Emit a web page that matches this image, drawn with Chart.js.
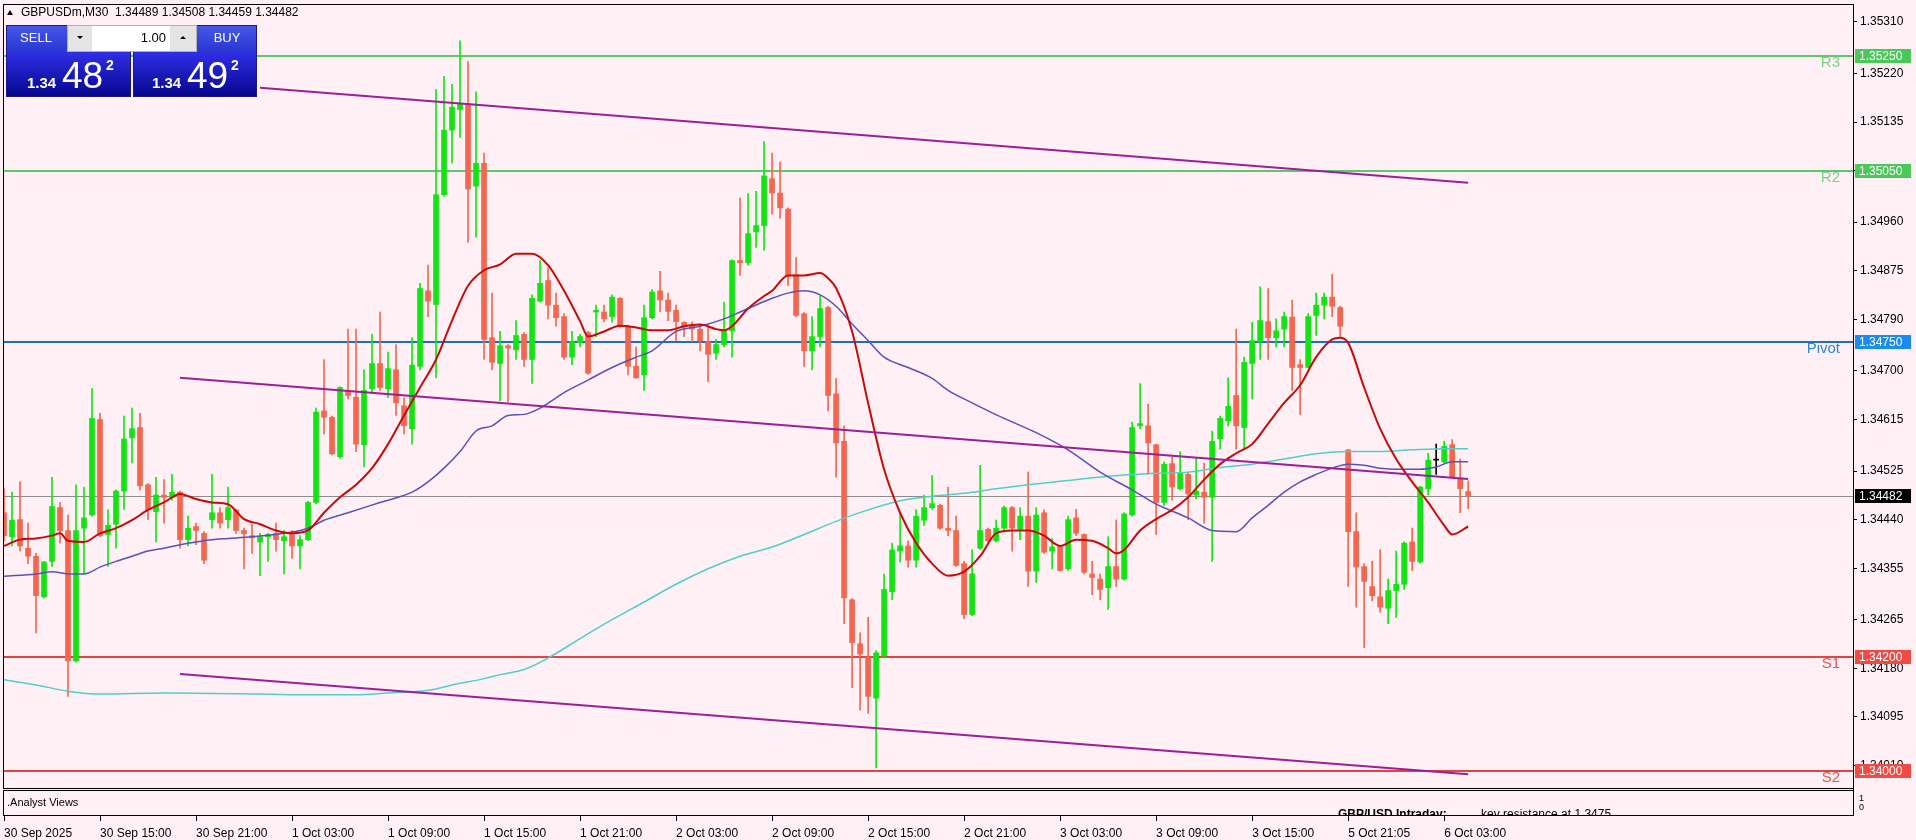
<!DOCTYPE html>
<html>
<head>
<meta charset="utf-8">
<script src="https://cdn.jsdelivr.net/npm/chart.js@4.4.1/dist/chart.umd.min.js"></script>
<style>
  html, body { margin: 0; padding: 0; background: #fff0f5; overflow: hidden; }
  #myChart { display: block; }
</style>
</head>
<body>
<canvas id="myChart" width="1916" height="840"></canvas>
<script>
// GBPUSDm M30 candles, bar 0 = 30 Sep 09:00
var opens = [1.34452,1.34410,1.34440,1.34390,1.34376,1.34305,1.34367,1.34461,1.34421,1.34193,
  1.34425,1.34448,1.34615,1.34414,1.34432,1.34490,1.34583,1.34601,1.34501,1.34454,
  1.34483,1.34479,1.34488,1.34405,1.34428,1.34416,1.34440,1.34452,1.34440,1.34457,
  1.34421,1.34412,1.34401,1.34410,1.34416,1.34403,1.34414,1.34394,1.34405,1.34470,
  1.34630,1.34619,1.34550,1.34666,1.34654,1.34571,1.34669,1.34713,1.34669,1.34702,
  1.34639,1.34599,1.34708,1.34840,1.34816,1.35008,1.35121,1.35157,1.35167,1.35023,
  1.35063,1.34758,1.34713,1.34744,1.34737,1.34764,1.34720,1.34822,1.34858,1.34815,
  1.34795,1.34724,1.34749,1.34767,1.34803,1.34803,1.34795,1.34827,1.34778,1.34708,
  1.34693,1.34793,1.34840,1.34824,1.34806,1.34785,1.34778,1.34773,1.34751,1.34731,
  1.34746,1.34770,1.34893,1.34889,1.34943,1.34954,1.35036,1.35011,1.34983,1.34868,
  1.34800,1.34735,1.34760,1.34811,1.34660,1.34577,1.34300,1.34223,1.34200,1.34128,
  1.34202,1.34314,1.34385,1.34394,1.34369,1.34439,1.34461,1.34465,1.34425,1.34421,
  1.34363,1.34274,1.34390,1.34423,1.34403,1.34425,1.34461,1.34423,1.34446,1.34350,
  1.34452,1.34385,1.34392,1.34354,1.34443,1.34414,1.34345,1.34336,1.34321,1.34358,
  1.34336,1.34448,1.34604,1.34604,1.34571,1.34470,1.34538,1.34494,1.34519,1.34483,
  1.34488,1.34479,1.34581,1.34613,1.34657,1.34601,1.34713,1.34751,1.34786,1.34758,
  1.34773,1.34794,1.34711,1.34706,1.34797,1.34815,1.34829,1.34811,1.34562,1.34419,
  1.34358,1.34323,1.34305,1.34285,1.34316,1.34327,1.34401,1.34366,1.34494,1.34544,
  1.34541,1.34571,1.34512,1.34489];
var highs = [1.34494,1.34488,1.34506,1.34434,1.34381,1.34367,1.34514,1.34470,1.34448,1.34501,
  1.34497,1.34669,1.34626,1.34457,1.34492,1.34621,1.34635,1.34626,1.34503,1.34514,
  1.34510,1.34519,1.34490,1.34446,1.34434,1.34419,1.34519,1.34461,1.34497,1.34458,
  1.34425,1.34432,1.34416,1.34416,1.34434,1.34421,1.34421,1.34412,1.34472,1.34635,
  1.34720,1.34621,1.34672,1.34773,1.34773,1.34702,1.34764,1.34803,1.34733,1.34746,
  1.34653,1.34758,1.34853,1.34885,1.35192,1.35215,1.35201,1.35277,1.35241,1.35188,
  1.35081,1.34836,1.34769,1.34746,1.34788,1.34767,1.34833,1.34893,1.34880,1.34836,
  1.34800,1.34769,1.34764,1.34769,1.34815,1.34815,1.34833,1.34828,1.34780,1.34742,
  1.34815,1.34842,1.34874,1.34836,1.34815,1.34786,1.34786,1.34782,1.34782,1.34755,
  1.34820,1.34894,1.35002,1.35010,1.35014,1.35101,1.35081,1.35065,1.34985,1.34898,
  1.34802,1.34795,1.34831,1.34813,1.34687,1.34604,1.34302,1.34242,1.34269,1.34211,
  1.34345,1.34399,1.34452,1.34403,1.34457,1.34483,1.34517,1.34467,1.34497,1.34446,
  1.34367,1.34387,1.34535,1.34425,1.34439,1.34464,1.34463,1.34461,1.34523,1.34461,
  1.34457,1.34407,1.34394,1.34446,1.34458,1.34415,1.34367,1.34345,1.34410,1.34439,
  1.34452,1.34610,1.34678,1.34642,1.34572,1.34541,1.34550,1.34559,1.34521,1.34547,
  1.34539,1.34595,1.34621,1.34688,1.34773,1.34724,1.34785,1.34847,1.34844,1.34791,
  1.34803,1.34824,1.34720,1.34800,1.34836,1.34836,1.34869,1.34813,1.34563,1.34452,
  1.34363,1.34367,1.34387,1.34336,1.34385,1.34401,1.34425,1.34498,1.34556,1.34572,
  1.34577,1.34580,1.34546,1.34508];
var lows = [1.34403,1.34394,1.34385,1.34363,1.34242,1.34303,1.34358,1.34399,1.34131,1.34191,
  1.34345,1.34446,1.34410,1.34358,1.34390,1.34458,1.34539,1.34492,1.34440,1.34401,
  1.34434,1.34474,1.34390,1.34394,1.34396,1.34363,1.34425,1.34425,1.34425,1.34416,
  1.34354,1.34381,1.34342,1.34367,1.34385,1.34345,1.34372,1.34354,1.34403,1.34468,
  1.34590,1.34553,1.34547,1.34651,1.34559,1.34532,1.34662,1.34666,1.34653,1.34622,
  1.34590,1.34572,1.34702,1.34795,1.34688,1.35005,1.35063,1.35108,1.34925,1.34934,
  1.34720,1.34702,1.34648,1.34646,1.34720,1.34708,1.34678,1.34820,1.34791,1.34778,
  1.34720,1.34711,1.34742,1.34694,1.34760,1.34786,1.34785,1.34776,1.34693,1.34687,
  1.34666,1.34791,1.34803,1.34788,1.34753,1.34760,1.34751,1.34735,1.34681,1.34720,
  1.34742,1.34724,1.34867,1.34885,1.34916,1.34911,1.34974,1.34967,1.34849,1.34795,
  1.34708,1.34702,1.34742,1.34630,1.34514,1.34258,1.34146,1.34107,1.34101,1.34006,
  1.34198,1.34300,1.34366,1.34357,1.34357,1.34430,1.34458,1.34423,1.34412,1.34358,
  1.34267,1.34272,1.34388,1.34401,1.34401,1.34421,1.34385,1.34405,1.34323,1.34330,
  1.34381,1.34354,1.34350,1.34351,1.34412,1.34345,1.34309,1.34300,1.34283,1.34323,
  1.34334,1.34446,1.34599,1.34519,1.34414,1.34465,1.34474,1.34492,1.34440,1.34476,
  1.34434,1.34367,1.34563,1.34604,1.34563,1.34563,1.34651,1.34720,1.34720,1.34742,
  1.34742,1.34666,1.34624,1.34705,1.34762,1.34791,1.34795,1.34760,1.34323,1.34287,
  1.34216,1.34298,1.34278,1.34258,1.34269,1.34318,1.34351,1.34364,1.34483,1.34519,
  1.34539,1.34512,1.34452,1.34459];
var closes = [1.34412,1.34439,1.34394,1.34376,1.34307,1.34366,1.34463,1.34421,1.34193,1.34421,
  1.34443,1.34617,1.34412,1.34430,1.34490,1.34581,1.34599,1.34499,1.34457,1.34483,
  1.34479,1.34488,1.34405,1.34425,1.34421,1.34369,1.34452,1.34434,1.34461,1.34421,
  1.34415,1.34408,1.34410,1.34414,1.34405,1.34410,1.34394,1.34405,1.34470,1.34628,
  1.34619,1.34555,1.34671,1.34657,1.34572,1.34666,1.34713,1.34671,1.34704,1.34644,
  1.34604,1.34710,1.34844,1.34822,1.35008,1.35121,1.35161,1.35167,1.35018,1.35063,
  1.34755,1.34715,1.34744,1.34740,1.34762,1.34720,1.34827,1.34853,1.34815,1.34793,
  1.34724,1.34751,1.34760,1.34696,1.34806,1.34791,1.34829,1.34778,1.34708,1.34688,
  1.34793,1.34838,1.34824,1.34804,1.34786,1.34778,1.34773,1.34753,1.34729,1.34746,
  1.34770,1.34893,1.34889,1.34940,1.34954,1.35041,1.35011,1.34985,1.34867,1.34797,
  1.34735,1.34760,1.34809,1.34657,1.34574,1.34303,1.34225,1.34205,1.34131,1.34207,
  1.34318,1.34387,1.34394,1.34369,1.34446,1.34461,1.34468,1.34425,1.34421,1.34360,
  1.34274,1.34345,1.34421,1.34403,1.34425,1.34461,1.34425,1.34446,1.34350,1.34448,
  1.34383,1.34392,1.34351,1.34440,1.34416,1.34348,1.34339,1.34318,1.34358,1.34336,
  1.34450,1.34601,1.34608,1.34574,1.34470,1.34537,1.34497,1.34521,1.34485,1.34490,
  1.34479,1.34577,1.34617,1.34638,1.34604,1.34715,1.34753,1.34788,1.34758,1.34770,
  1.34795,1.34706,1.34706,1.34795,1.34815,1.34829,1.34813,1.34778,1.34419,1.34357,
  1.34332,1.34307,1.34287,1.34316,1.34327,1.34399,1.34367,1.34497,1.34544,1.34544,
  1.34568,1.34514,1.34494,1.34482];

// moving averages (bar index, price)
var redMaBars = [0,2,4,6,7,8,10,12,14,16,18,20,22,24,26,28,30,32,34,36,38,40,42,44,46,48,50,52,54,56,58,60,62,64,66,68,70,72,73,75,77,79,81,83,85,87,89,90,91,93,95,96,98,100,102,103,104,106,108,110,112,114,116,118,120,122,124,126,128,130,132,134,136,138,139,140,142,144,146,148,150,152,154,156,158,160,162,164,166,167,168,170,172,174,176,178,180,181,183];
var redMa = [1.34394,1.34405,1.34407,1.34412,1.34416,1.34403,1.34401,1.34416,1.34425,1.34439,1.34457,1.34470,1.34485,1.34476,1.34470,1.34467,1.34441,1.34432,1.34421,1.34416,1.34421,1.34452,1.34479,1.34501,1.34530,1.34572,1.34622,1.34671,1.34720,1.34788,1.34849,1.34876,1.34886,1.34905,1.34905,1.34885,1.34840,1.34787,1.34760,1.34769,1.34779,1.34776,1.34771,1.34771,1.34778,1.34781,1.34773,1.34771,1.34778,1.34809,1.34831,1.34840,1.34867,1.34867,1.34871,1.34862,1.34845,1.34769,1.34644,1.34528,1.34452,1.34399,1.34363,1.34342,1.34349,1.34376,1.34416,1.34421,1.34421,1.34412,1.34394,1.34405,1.34403,1.34390,1.34381,1.34387,1.34421,1.34441,1.34457,1.34479,1.34510,1.34537,1.34556,1.34572,1.34608,1.34644,1.34675,1.34724,1.34755,1.34758,1.34749,1.34671,1.34599,1.34546,1.34506,1.34470,1.34430,1.34414,1.34428];
var blueMaBars = [0,4,6,8,10,12,14,16,18,20,22,24,26,28,31,35,38,40,43,47,51,53,55,57,59,61,63,65,67,70,73,76,79,81,84,87,90,92,93,96,98,100,102,104,106,108,110,113,116,118,121,123,125,129,133,137,141,144,148,151,154,156,158,160,162,164,166,168,170,172,174,177,179,181,183];
var blueMa = [1.34341,1.34345,1.34349,1.34345,1.34345,1.34357,1.34367,1.34376,1.34385,1.34390,1.34396,1.34401,1.34405,1.34407,1.34410,1.34416,1.34425,1.34439,1.34452,1.34470,1.34488,1.34506,1.34530,1.34559,1.34595,1.34604,1.34622,1.34624,1.34635,1.34662,1.34684,1.34706,1.34724,1.34735,1.34769,1.34778,1.34791,1.34803,1.34809,1.34827,1.34836,1.34840,1.34833,1.34813,1.34782,1.34753,1.34724,1.34706,1.34687,1.34666,1.34644,1.34630,1.34617,1.34592,1.34562,1.34523,1.34492,1.34467,1.34443,1.34421,1.34419,1.34443,1.34465,1.34488,1.34506,1.34519,1.34530,1.34537,1.34535,1.34530,1.34528,1.34528,1.34532,1.34541,1.34541];
var cyanMaBars = [0,4,8,12,20,32,36,44,48,52,54,56,60,62,65,68,72,76,80,84,88,92,96,100,104,108,112,116,120,124,128,132,136,140,144,148,152,156,160,164,168,172,176,180,183];
var cyanMa = [1.34160,1.34151,1.34140,1.34135,1.34137,1.34135,1.34134,1.34134,1.34137,1.34140,1.34144,1.34151,1.34162,1.34169,1.34178,1.34198,1.34232,1.34265,1.34296,1.34327,1.34354,1.34376,1.34392,1.34414,1.34437,1.34457,1.34473,1.34481,1.34486,1.34494,1.34501,1.34507,1.34513,1.34518,1.34521,1.34523,1.34531,1.34537,1.34546,1.34555,1.34559,1.34559,1.34562,1.34564,1.34564];

// channel trend lines: [startBar, startPrice, endBar, endPrice]
var trendTop = [32, 1.35195, 183, 1.35029];
var trendMid = [22, 1.34688, 183, 1.34511];
var trendLow = [22, 1.34170, 183, 1.33995];

// pivot levels
var levelNames = ['R3', 'R2', 'Pivot', 'S1', 'S2'];
var levelValues = [1.35250, 1.35050, 1.34750, 1.34200, 1.34000];
var levelColors = ['#5cc86a', '#5cc86a', '#1c6fc0', '#e04545', '#e04545'];
var levelBoxColors = ['#4cc85a', '#4cc85a', '#1a8cf0', '#f24a44', '#f24a44'];
var levelTextColors = ['#7ed08c', '#7ed08c', '#2f86d6', '#e0574f', '#e0574f'];

var bid = 1.34482;
var ask = 1.34492;

// axis ticks
var yTicks = [1.35310,1.35220,1.35135,1.35050,1.34960,1.34875,1.34790,1.34700,1.34615,1.34525,1.34440,1.34355,1.34265,1.34180,1.34095,1.34010];
var xTickBars = [0,12,24,36,48,60,72,84,96,108,120,132,144,156,168,180];
var xTickLabels = ['30 Sep 2025','30 Sep 15:00','30 Sep 21:00','1 Oct 03:00','1 Oct 09:00','1 Oct 15:00','1 Oct 21:00','2 Oct 03:00','2 Oct 09:00','2 Oct 15:00','2 Oct 21:00','3 Oct 03:00','3 Oct 09:00','3 Oct 15:00','5 Oct 21:05','6 Oct 03:00'];

var BG = '#fff0f5';
var UP = '#12e412';
var DOWN = '#f2674f';
var FONT = 'Liberation Sans';

Chart.defaults.font.family = FONT;

function candleColor(ctx) {
  var i = ctx.dataIndex;
  if (opens[i] === closes[i]) return '#000000';
  return closes[i] > opens[i] ? UP : DOWN;
}

var wickData = [];
var bodyData = [];
for (var i = 0; i < opens.length; i++) {
  wickData.push({x: i, y: [lows[i], highs[i]]});
  bodyData.push({x: i, y: [opens[i], closes[i]]});
}

function pts(bars, vals) {
  return bars.map(function (b, k) { return {x: b, y: vals[k]}; });
}
function seg(t) {
  return [{x: t[0], y: t[1]}, {x: t[2], y: t[3]}];
}

function fmtPrice(v) { return v.toFixed(5); }

var mtPlugin = {
  id: 'mtPlugin',
  beforeDraw: function (chart) {
    var c = chart.ctx;
    c.save();
    c.fillStyle = BG;
    c.fillRect(0, 0, chart.width, chart.height);
    c.restore();
  },
  beforeDatasetsDraw: function (chart) {
    var c = chart.ctx, a = chart.chartArea, y = chart.scales.y;
    c.save();
    // last price line
    var py = Math.round(y.getPixelForValue(bid)) + 0.5;
    c.strokeStyle = '#8c8c8c';
    c.lineWidth = 1;
    c.beginPath(); c.moveTo(a.left, py); c.lineTo(a.right, py); c.stroke();
    for (var k = 0; k < levelValues.length; k++) {
      var ly = Math.round(y.getPixelForValue(levelValues[k]));
      c.strokeStyle = levelColors[k];
      c.lineWidth = 2;
      c.beginPath(); c.moveTo(a.left, ly); c.lineTo(a.right, ly); c.stroke();
    }
    c.restore();
  },
  afterDraw: function (chart) {
    var c = chart.ctx, a = chart.chartArea, y = chart.scales.y, x = chart.scales.x;
    c.save();

    // level names at right edge
    c.font = '15px ' + FONT;
    c.textAlign = 'right';
    c.textBaseline = 'middle';
    for (var k = 0; k < levelValues.length; k++) {
      var ly = y.getPixelForValue(levelValues[k]);
      c.fillStyle = levelTextColors[k];
      c.fillText(levelNames[k], 1840, ly + 7);
    }

    // price boxes on the axis
    c.font = '12px ' + FONT;
    c.textAlign = 'left';
    function box(v, bg, fg) {
      var by = Math.round(y.getPixelForValue(v));
      c.fillStyle = bg;
      c.fillRect(a.right + 2, by - 7, 56, 14);
      c.fillStyle = fg;
      c.fillText(fmtPrice(v), a.right + 6, by + 1);
    }
    for (k = 0; k < levelValues.length; k++) box(levelValues[k], levelBoxColors[k], '#ffffff');
    box(bid, '#000000', '#ffffff');

    // frames
    c.strokeStyle = '#000000';
    c.lineWidth = 1;
    c.strokeRect(3.5, 4.5, a.right - 3, 784);
    c.strokeRect(3.5, 790.5, a.right - 3, 25);

    // x tick marks under the sub window
    c.beginPath();
    xTickBars.forEach(function (b) {
      var px = Math.round(x.getPixelForValue(b)) + 0.5;
      c.moveTo(px, 816); c.lineTo(px, 821);
    });
    c.stroke();

    // sub window content
    c.fillStyle = '#000000';
    c.font = '11px ' + FONT;
    c.textBaseline = 'middle';
    c.fillText('.Analyst Views', 7, 803);
    c.font = '9px ' + FONT;
    c.fillText('1', 1859, 799);
    c.fillText('0', 1859, 808);
    c.save();
    c.beginPath(); c.rect(4, 791, a.right - 4, 24); c.clip();
    c.textBaseline = 'alphabetic';
    c.font = 'bold 12px ' + FONT;
    c.fillText('GBP/USD Intraday:', 1338, 818);
    c.font = '12px ' + FONT;
    c.fillText('key resistance at 1.3475.', 1481, 818);
    c.restore();

    // header
    var n = opens.length - 1;
    c.fillStyle = '#000000';
    c.beginPath(); c.moveTo(7, 15); c.lineTo(13, 15); c.lineTo(10, 10); c.closePath(); c.fill();
    c.font = '12px ' + FONT;
    c.textBaseline = 'middle';
    c.fillText('GBPUSDm,M30  ' + fmtPrice(opens[n]) + ' ' + fmtPrice(highs[n]) + ' ' + fmtPrice(lows[n]) + ' ' + fmtPrice(closes[n]), 21, 13);

    drawPanel(c);
    c.restore();
  }
};

function drawPanel(c) {
  var g1 = c.createLinearGradient(0, 25, 0, 51);
  g1.addColorStop(0, '#4658ea');
  g1.addColorStop(1, '#2a38d0');
  c.fillStyle = g1;
  c.fillRect(6, 25, 61, 26);
  c.fillRect(197, 25, 60, 26);
  var g2 = c.createLinearGradient(0, 51, 0, 97);
  g2.addColorStop(0, '#3030e8');
  g2.addColorStop(1, '#06068c');
  c.fillStyle = g2;
  c.fillRect(6, 51, 125, 46);
  c.fillRect(133, 51, 124, 46);
  c.strokeStyle = '#1a1a80';
  c.lineWidth = 1;
  c.strokeRect(6.5, 25.5, 124, 71);
  c.strokeRect(133.5, 25.5, 123, 71);

  // lot selector
  c.fillStyle = '#e4e4e4';
  c.fillRect(67, 25, 130, 27);
  c.fillStyle = '#ffffff';
  c.fillRect(92, 26, 78, 25);
  c.strokeStyle = '#b0b0b0';
  c.strokeRect(67.5, 25.5, 129, 26);
  c.fillStyle = '#000000';
  c.beginPath(); c.moveTo(77, 36); c.lineTo(83, 36); c.lineTo(80, 39); c.closePath(); c.fill();
  c.beginPath(); c.moveTo(180, 39); c.lineTo(186, 39); c.lineTo(183, 36); c.closePath(); c.fill();
  c.font = '13px ' + FONT;
  c.textAlign = 'right';
  c.textBaseline = 'middle';
  c.fillText('1.00', 166, 38);

  c.fillStyle = '#ffffff';
  c.textAlign = 'center';
  c.font = '13px ' + FONT;
  c.fillText('SELL', 36, 38);
  c.fillText('BUY', 227, 38);

  function quote(v, x0) {
    var s = v.toFixed(5);
    c.textAlign = 'left';
    c.textBaseline = 'alphabetic';
    c.font = 'bold 15px ' + FONT;
    c.fillText(s.slice(0, 4), x0, 88);
    c.font = '37px ' + FONT;
    c.fillText(s.slice(4, 6), x0 + 35, 88);
    c.font = 'bold 14px ' + FONT;
    c.fillText(s.slice(6), x0 + 79, 70);
  }
  quote(bid, 27);
  quote(ask, 152);
}

var myChart = new Chart(document.getElementById('myChart').getContext('2d'), {
  type: 'bar',
  data: {
    datasets: [
      {type: 'bar', data: wickData, backgroundColor: candleColor, barThickness: 1, grouped: false, order: 6},
      {type: 'bar', data: bodyData, backgroundColor: candleColor, barThickness: 5, minBarLength: 1, grouped: false, order: 5},
      {type: 'line', data: pts(cyanMaBars, cyanMa), borderColor: '#4fcfc8', borderWidth: 1.5, pointRadius: 0, cubicInterpolationMode: 'monotone', order: 4},
      {type: 'line', data: pts(blueMaBars, blueMa), borderColor: '#5a50b8', borderWidth: 1.5, pointRadius: 0, cubicInterpolationMode: 'monotone', order: 3},
      {type: 'line', data: pts(redMaBars, redMa), borderColor: '#c80a0a', borderWidth: 2, pointRadius: 0, cubicInterpolationMode: 'monotone', order: 2},
      {type: 'line', data: seg(trendTop), borderColor: '#9c1e98', borderWidth: 2, pointRadius: 0, order: 1},
      {type: 'line', data: seg(trendMid), borderColor: '#9c1e98', borderWidth: 2, pointRadius: 0, order: 1},
      {type: 'line', data: seg(trendLow), borderColor: '#9c1e98', borderWidth: 2, pointRadius: 0, order: 1}
    ]
  },
  options: {
    responsive: false,
    animation: false,
    devicePixelRatio: 1,
    layout: {padding: {left: 3, top: 5, right: 0, bottom: 0}},
    plugins: {legend: {display: false}, tooltip: {enabled: false}},
    scales: {
      x: {
        type: 'linear',
        min: -0.125,
        max: 231.1,
        offset: false,
        grid: {display: false},
        border: {display: false},
        afterBuildTicks: function (s) { s.ticks = xTickBars.map(function (v) { return {value: v}; }); },
        afterFit: function (s) { s.height = 50; s.paddingLeft = 0; s.paddingRight = 0; },
        ticks: {
          align: 'start',
          padding: 28,
          autoSkip: false,
          maxRotation: 0,
          color: '#000000',
          font: {size: 12, family: FONT},
          callback: function (v) { var k = xTickBars.indexOf(v); return k >= 0 ? xTickLabels[k] : ''; }
        }
      },
      y: {
        type: 'linear',
        position: 'right',
        min: 1.339673,
        max: 1.353397,
        grid: {drawOnChartArea: false, drawTicks: true, tickLength: 4, color: '#000000'},
        border: {display: true, color: '#000000'},
        afterBuildTicks: function (s) { s.ticks = yTicks.map(function (v) { return {value: v}; }); },
        afterFit: function (s) { s.width = 63; s.paddingTop = 0; s.paddingBottom = 0; },
        ticks: {
          padding: 3,
          color: '#000000',
          font: {size: 12, family: FONT},
          callback: function (v) { return v.toFixed(5); }
        }
      }
    }
  },
  plugins: [mtPlugin]
});
</script>
</body>
</html>
